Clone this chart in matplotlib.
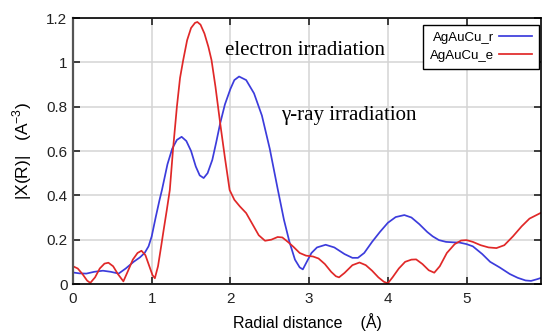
import matplotlib.pyplot as plt
from matplotlib.ticker import FormatStrFormatter

# |chi(R)| magnitude vs radial distance, gamma-ray sample (r)
r_x = [0.00, 0.08, 0.17, 0.27, 0.38, 0.48, 0.58, 0.67, 0.77, 0.85, 0.91, 0.96,
       1.00, 1.05, 1.10, 1.13, 1.20, 1.26, 1.32, 1.38, 1.44, 1.50, 1.56, 1.61,
       1.66, 1.71, 1.77, 1.82, 1.87, 1.93, 2.00, 2.05, 2.11, 2.20, 2.30, 2.40,
       2.50, 2.60, 2.68, 2.75, 2.82, 2.88, 2.92, 2.97, 3.03, 3.10, 3.21, 3.32,
       3.45, 3.55, 3.62, 3.70, 3.80, 3.90, 4.00, 4.10, 4.21, 4.30, 4.40, 4.50,
       4.57, 4.65, 4.74, 4.83, 4.91, 5.00, 5.08, 5.20, 5.30, 5.42, 5.55, 5.65,
       5.75, 5.82, 5.90, 5.95]
r_y = [0.052, 0.048, 0.047, 0.055, 0.060, 0.055, 0.047, 0.070, 0.100, 0.120, 0.140, 0.170,
       0.215, 0.300, 0.380, 0.424, 0.540, 0.610, 0.650, 0.664, 0.645, 0.600, 0.530, 0.490,
       0.478, 0.500, 0.560, 0.640, 0.725, 0.810, 0.880, 0.920, 0.936, 0.920, 0.860, 0.760,
       0.610, 0.430, 0.290, 0.190, 0.110, 0.075, 0.066, 0.100, 0.140, 0.165, 0.177, 0.165,
       0.135, 0.118, 0.118, 0.140, 0.190, 0.235, 0.276, 0.302, 0.311, 0.300, 0.270, 0.235,
       0.215, 0.198, 0.190, 0.188, 0.187, 0.180, 0.170, 0.135, 0.100, 0.075, 0.045, 0.028,
       0.016, 0.014, 0.022, 0.028]

# electron-irradiated sample (e)
e_x = [0.00, 0.06, 0.12, 0.18, 0.22, 0.28, 0.34, 0.40, 0.45, 0.51, 0.57, 0.64,
       0.70, 0.76, 0.82, 0.87, 0.92, 0.97, 1.01, 1.04, 1.08, 1.12, 1.15, 1.19,
       1.23, 1.27, 1.32, 1.36, 1.40, 1.45, 1.50, 1.55, 1.58, 1.62, 1.67, 1.72,
       1.76, 1.81, 1.87, 1.93, 1.99, 2.05, 2.12, 2.20, 2.28, 2.36, 2.44, 2.52,
       2.60, 2.66, 2.73, 2.80, 2.88, 2.96, 3.05, 3.12, 3.20, 3.28, 3.34, 3.38,
       3.45, 3.55, 3.64, 3.72, 3.80, 3.88, 3.95, 4.00, 4.06, 4.14, 4.22, 4.30,
       4.36, 4.44, 4.52, 4.59, 4.66, 4.75, 4.85, 4.93, 5.00, 5.08, 5.18, 5.28,
       5.38, 5.48, 5.59, 5.70, 5.80, 5.95]
e_y = [0.080, 0.070, 0.045, 0.015, 0.005, 0.030, 0.070, 0.092, 0.096, 0.080, 0.045, 0.012,
       0.060, 0.110, 0.140, 0.150, 0.130, 0.080, 0.040, 0.026, 0.080, 0.170, 0.240, 0.330,
       0.424, 0.604, 0.800, 0.930, 1.010, 1.100, 1.155, 1.178, 1.182, 1.170, 1.130, 1.070,
       1.010, 0.890, 0.725, 0.570, 0.424, 0.380, 0.350, 0.320, 0.270, 0.220, 0.195, 0.200,
       0.212, 0.210, 0.190, 0.168, 0.140, 0.128, 0.124, 0.115, 0.090, 0.055, 0.035, 0.030,
       0.050, 0.085, 0.097, 0.085, 0.060, 0.030, 0.010, 0.003, 0.030, 0.070, 0.100, 0.110,
       0.111, 0.090, 0.062, 0.051, 0.080, 0.140, 0.180, 0.196, 0.198, 0.190, 0.175, 0.165,
       0.162, 0.175, 0.215, 0.260, 0.295, 0.322]

x_ticks = [0, 1, 2, 3, 4, 5]
y_ticks = [0, 0.2, 0.4, 0.6, 0.8, 1.0, 1.2]

plt.rcParams['font.family'] = ['Liberation Sans', 'DejaVu Sans']

fig = plt.figure(figsize=(5.42, 3.34), dpi=100)
ax = fig.add_axes([0.1347, 0.1497, 0.864, 0.7964])

ax.plot(r_x, r_y, color='#3c3cdc', lw=1.25, label='AgAuCu_r')
ax.plot(e_x, e_y, color='#e02828', lw=1.25, label='AgAuCu_e')

ax.set_xlim(0, 5.95)
ax.set_ylim(0, 1.2)
ax.set_xticks(x_ticks)
ax.set_yticks(y_ticks)
ax.yaxis.set_major_formatter(FormatStrFormatter('%g'))
ax.grid(True, color='#d4d4d4', lw=1.1)
ax.set_axisbelow(True)
ax.tick_params(direction='in', length=5, width=1.2, top=True, right=True,
               labelsize=11, colors='#222222', pad=6)
ax.tick_params(axis='y', pad=4)
for side in ['top', 'bottom', 'right']:
    ax.spines[side].set_color('black')
    ax.spines[side].set_linewidth(1.2)
ax.spines['left'].set_color('#555555')
ax.spines['left'].set_linewidth(1.6)

ax.set_xlabel('Radial distance    (\u00c5)', fontsize=11.5, labelpad=5)
ax.set_ylabel(r'|X(R)|   (A$^{\mathregular{-3}}$)', fontsize=12.5, labelpad=9)

ax.text(1.93, 1.055, 'electron irradiation', family=['Liberation Serif', 'DejaVu Serif'],
        fontsize=15, va='center', ha='left')
ax.text(2.64, 0.762, '\u03b3-ray irradiation', family=['Liberation Serif', 'DejaVu Serif'],
        fontsize=15, va='center', ha='left')

leg = ax.legend(loc='upper right', bbox_to_anchor=(0.9945, 0.925),
                bbox_transform=fig.transFigure, borderaxespad=0,
                markerfirst=False, fontsize=9.5, handlelength=2.5,
                fancybox=False, framealpha=1, edgecolor='black',
                labelspacing=0.45, borderpad=0.5, handletextpad=0.4)
leg.get_frame().set_linewidth(1.0)

fig.savefig('out.png', dpi=100)
